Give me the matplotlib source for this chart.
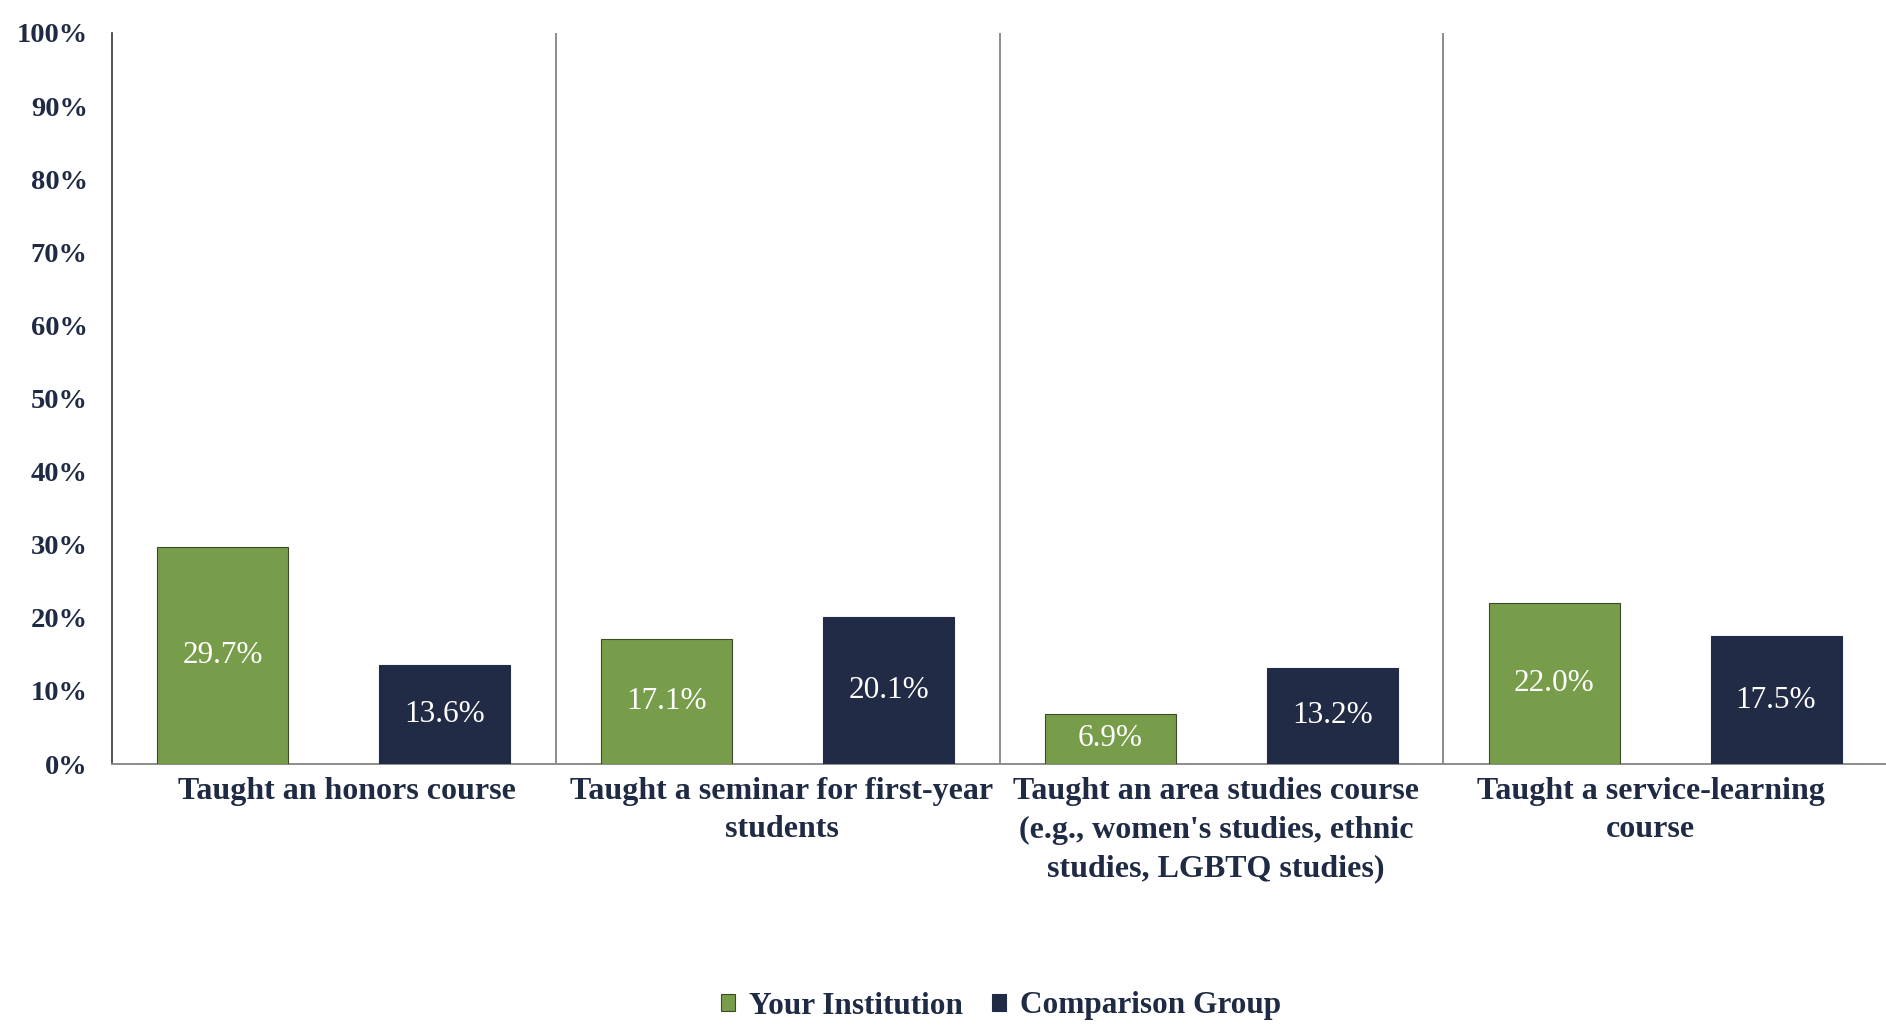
import matplotlib
matplotlib.use("Agg")
import matplotlib.pyplot as plt
from matplotlib.ticker import PercentFormatter
import numpy as np

categories = [
    "Taught an honors course",
    "Taught a seminar for first-year\nstudents",
    "Taught an area studies course\n(e.g., women's studies, ethnic\nstudies, LGBTQ studies)",
    "Taught a service-learning\ncourse",
]
your_institution = [29.7, 17.1, 6.9, 22.0]
comparison_group = [13.6, 20.1, 13.2, 17.5]
series_names = ["Your Institution", "Comparison Group"]

GREEN = "#789D4A"
NAVY = "#212B45"
TEXT = "#1F2A44"

plt.rcParams["font.family"] = ["Liberation Serif", "DejaVu Serif"]

fig = plt.figure(figsize=(18.86, 10.25), dpi=100)
ax = fig.add_axes([112 / 1886, 261 / 1025, 1775 / 1886, 731 / 1025])

x = np.arange(len(categories))
w = 0.295
off = 0.25
b1 = ax.bar(x - off, your_institution, w, color=GREEN, edgecolor="#3d4a2a",
            linewidth=0.8, label=series_names[0], zorder=3)
b2 = ax.bar(x + off, comparison_group, w, color=NAVY, edgecolor=NAVY,
            linewidth=0.8, label=series_names[1], zorder=3)

for bars, vals in ((b1, your_institution), (b2, comparison_group)):
    for r, v in zip(bars, vals):
        ax.text(r.get_x() + r.get_width() / 2, v / 2, f"{v:.1f}%",
                ha="center", va="center", color="white", fontsize=22.5,
                zorder=4)

# vertical separators between categories
for s in np.arange(0.5, len(categories) - 0.5, 1.0):
    ax.axvline(s, color="#8c8c8c", linewidth=1.4, zorder=1)

ax.set_xlim(-0.5, len(categories) - 0.5)
ax.set_ylim(0, 100)
ax.set_yticks(np.arange(0, 101, 10))
ax.yaxis.set_major_formatter(PercentFormatter(decimals=0))
# category labels sit on a slightly narrower spacing than the groups
ax.set_xticks(0.03 + 0.979 * x)
ax.set_xticklabels(categories, fontsize=23, fontweight="bold", color=TEXT,
                   linespacing=1.45, va="top")
for lbl in ax.get_yticklabels():
    lbl.set_fontsize(20.5)
    lbl.set_fontweight("bold")
    lbl.set_color(TEXT)
ax.tick_params(axis="y", length=0, pad=17.5)
ax.tick_params(axis="x", length=0, pad=9)

for side in ("top", "right"):
    ax.spines[side].set_visible(False)
ax.spines["left"].set_color("#333333")
ax.spines["left"].set_linewidth(1.2)
ax.spines["bottom"].set_color("#8c8c8c")
ax.spines["bottom"].set_linewidth(1.4)

leg = fig.legend(handles=[b1, b2], labels=series_names, loc="center",
                 bbox_to_anchor=(1001 / 1886, 1 - 1006 / 1025), ncol=2,
                 frameon=False, fontsize=22.5, handlelength=0.45,
                 handleheight=0.45, handletextpad=0.45, columnspacing=0.9)
for t in leg.get_texts():
    t.set_fontweight("bold")
    t.set_color(TEXT)

fig.savefig("out.png", dpi=100)
